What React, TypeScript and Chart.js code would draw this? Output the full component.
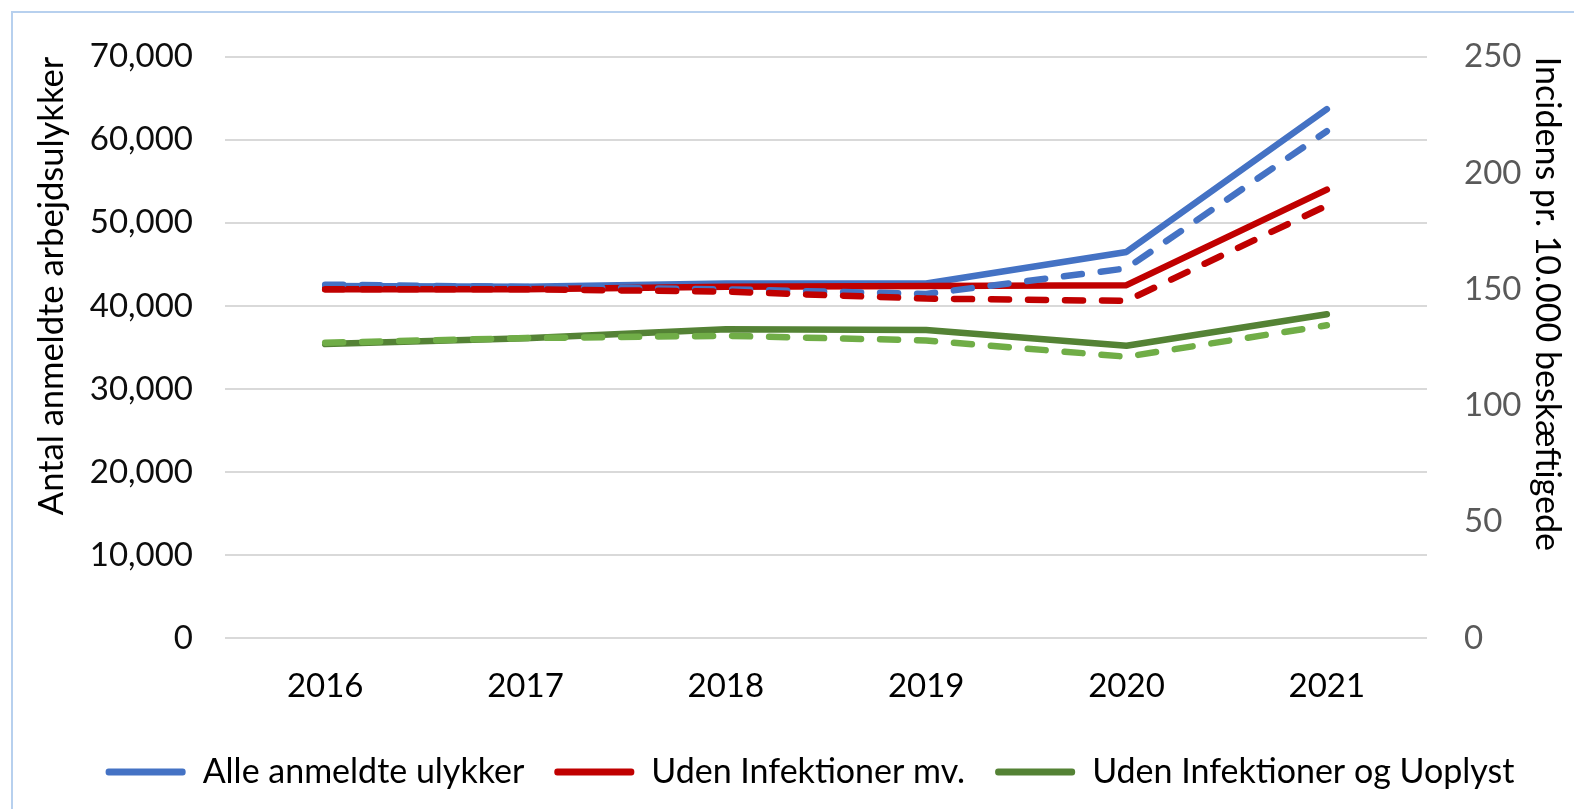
import React, { useEffect, useRef } from "react";
import { Chart, registerables } from "chart.js";

Chart.register(...registerables);

const years = ["2016", "2017", "2018", "2019", "2020", "2021"];
const seriesNames = ["Alle anmeldte ulykker", "Uden Infektioner mv.", "Uden Infektioner og Uoplyst"];
// Left axis: number of reported accidents (solid lines)
const alleCount = [42400, 42300, 42700, 42700, 46500, 63700];
const udenInfCount = [42000, 42000, 42300, 42400, 42500, 54000];
const udenInfUoplCount = [35400, 36100, 37200, 37100, 35200, 39000];
// Right axis: incidence per 10.000 employed (dashed lines)
const alleIncidens = [152, 151, 150, 148, 159, 218];
const udenInfIncidens = [150, 150, 149, 146, 145, 186];
const udenInfUoplIncidens = [127, 129, 130, 128, 121, 134.5];
const leftMax = 70000;
const leftStep = 10000;
const rightMax = 250;
const rightStep = 50;
const leftTitle = "Antal anmeldte arbejdsulykker";
const rightTitle = "Incidens pr. 10.000 beskæftigede";

const BLUE = "#4472C4";
const RED = "#C00000";
const GREEN = "#548235";
const LGREEN = "#70AD47";
const FONT = "Lato, 'Open Sans', sans-serif";

export default function App() {
  const ref = useRef<HTMLCanvasElement | null>(null);
  useEffect(() => {
    if (!ref.current) return;
    const dash = [18, 19];
    const common = {
      borderWidth: 6.5,
      pointRadius: 0,
      pointHoverRadius: 0,
      tension: 0,
      borderCapStyle: "round" as const,
      borderJoinStyle: "round" as const,
      fill: false,
    };
    const chart = new Chart(ref.current, {
      type: "line",
      data: {
        labels: years,
        datasets: [
          { ...common, label: seriesNames[0], data: alleCount, borderColor: BLUE, backgroundColor: BLUE, yAxisID: "y", order: 6 },
          { ...common, label: seriesNames[1], data: udenInfCount, borderColor: RED, backgroundColor: RED, yAxisID: "y", order: 5 },
          { ...common, label: seriesNames[2], data: udenInfUoplCount, borderColor: GREEN, backgroundColor: GREEN, yAxisID: "y", order: 4 },
          { ...common, label: seriesNames[0] + " (incidens)", data: alleIncidens, borderColor: BLUE, backgroundColor: BLUE, borderDash: dash, yAxisID: "y1", order: 3 },
          { ...common, label: seriesNames[1] + " (incidens)", data: udenInfIncidens, borderColor: RED, backgroundColor: RED, borderDash: dash, yAxisID: "y1", order: 2 },
          { ...common, label: seriesNames[2] + " (incidens)", data: udenInfUoplIncidens, borderColor: LGREEN, backgroundColor: LGREEN, borderDash: dash, yAxisID: "y1", order: 1 },
        ],
      },
      options: {
        animation: false,
        responsive: false,
        maintainAspectRatio: false,
        devicePixelRatio: 1,
        layout: { padding: { top: 47, left: 0, right: 0, bottom: 10 } },
        plugins: {
          tooltip: { enabled: false },
          legend: {
            position: "bottom",
            labels: {
              font: { family: FONT, size: 34 },
              color: "#000",
              boxWidth: 80,
              boxHeight: 7,
              padding: 30,
              filter: (item: any) => item.datasetIndex < 3,
              sort: (a: any, b: any) => a.datasetIndex - b.datasetIndex,
              generateLabels: (chart: any) => {
                const items = (Chart as any).defaults.plugins.legend.labels.generateLabels(chart);
                return items.map((it: any) => ({
                  ...it,
                  fillStyle: it.strokeStyle,
                  lineWidth: 0,
                  lineDash: [],
                  borderRadius: 3,
                }));
              },
            },
          },
        },
        scales: {
          x: {
            offset: true,
            grid: { display: false, drawTicks: false },
            border: { display: false },
            ticks: { font: { family: FONT, size: 33 }, color: "#000", padding: 29 },
            afterFit: (s: any) => { s.height = 87; },
          },
          y: {
            position: "left",
            min: 0,
            max: leftMax,
            ticks: {
              stepSize: leftStep,
              font: { family: FONT, size: 33 },
              color: "#0d0d0d",
              padding: 32,
              callback: (v: any) => Number(v).toLocaleString("en-US"),
            },
            grid: { color: "#d9d9d9", lineWidth: 2, drawTicks: false },
            border: { display: false },
            title: {
              display: true,
              text: leftTitle,
              align: "end",
              font: { family: FONT, size: 34.5 },
              color: "#000",
              padding: { top: 31, bottom: 0 },
            },
            afterFit: (s: any) => { s.width = 225; },
          },
          y1: {
            position: "right",
            min: 0,
            max: rightMax,
            ticks: {
              stepSize: rightStep,
              font: { family: FONT, size: 33 },
              color: "#595959",
              padding: 37,
            },
            grid: { drawOnChartArea: false, drawTicks: false },
            border: { display: false },
            title: {
              display: true,
              text: rightTitle,
              align: "end",
              font: { family: FONT, size: 34 },
              color: "#000",
              padding: { top: 53, bottom: 0 },
            },
            afterFit: (s: any) => { s.width = 193; },
          },
        },
      },
    });
    return () => chart.destroy();
  }, []);

  return (
    <div style={{ position: "fixed", left: 0, top: 0, width: 1574, height: 809, overflow: "hidden", background: "#fff" }}>
      <div
        style={{
          position: "absolute",
          left: 11,
          top: 11,
          width: 1620,
          height: 840,
          border: "2px solid #b7d0ee",
          boxSizing: "border-box",
        }}
      />
      <canvas
        ref={ref}
        width={1620}
        height={809}
        style={{ position: "absolute", left: 0, top: 0, width: 1620, height: 809 }}
      />
    </div>
  );
}
